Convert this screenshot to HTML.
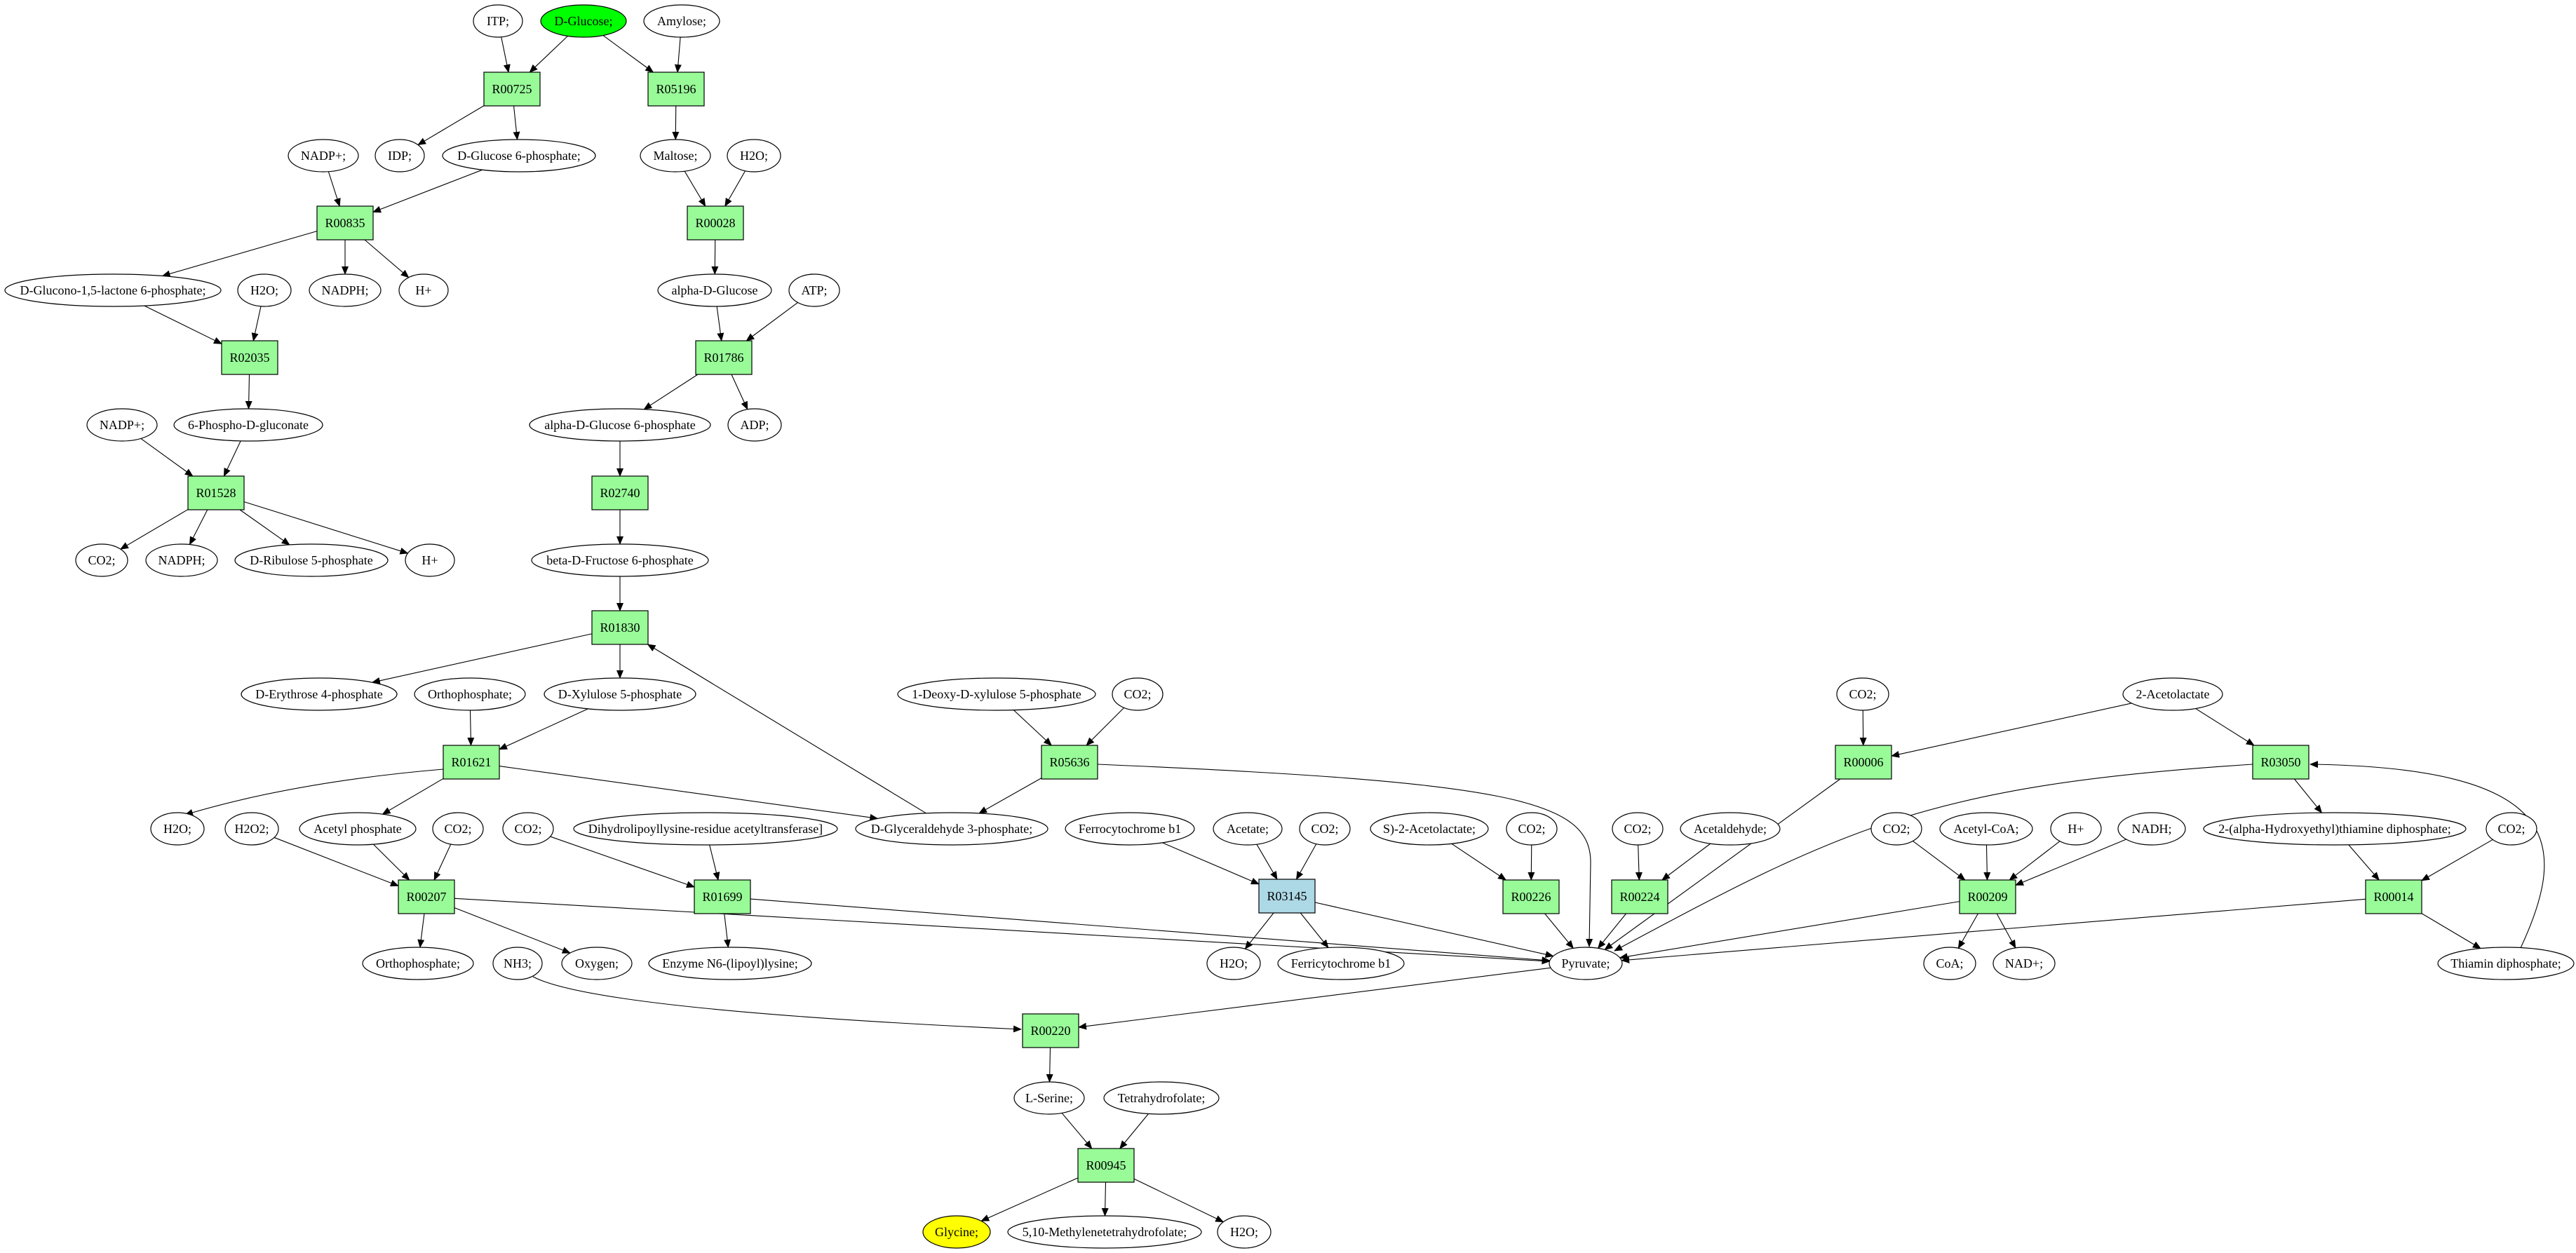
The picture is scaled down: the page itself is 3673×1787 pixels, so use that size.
<!DOCTYPE html>
<html><head><meta charset="utf-8">
<style>
html,body{margin:0;padding:0;background:#fff;}
svg{display:block;}
text{font-family:"Liberation Serif",serif;font-size:18px;fill:#000;}
</style></head>
<body>
<svg id="g" width="3673" height="1787" viewBox="0 0 3673 1787" xmlns="http://www.w3.org/2000/svg">
<defs>
<marker id="ah" markerUnits="userSpaceOnUse" markerWidth="12" markerHeight="10" refX="11" refY="5" orient="auto">
<path d="M0,0 L12,5 L0,10 Z" fill="#000"/>
</marker>
</defs>
<g id="edges" fill="none" stroke="#000" stroke-width="1.1"></g>
<g id="nodes"></g>
</svg>
<script>
var N={};
var RY=23;
function E(id,x,y,rx,label,fill){N[id]={t:'e',x:x,y:y,rx:rx,ry:RY,label:label,fill:fill||'#fff'};}
function B(id,x,y,label,fill){N[id]={t:'b',x:x,y:y,hw:40,hh:24,label:label,fill:fill||'#98fb98'};}
// boxes
B('R00725',730,127,'R00725');B('R05196',964,127,'R05196');
B('R00835',492,318,'R00835');B('R00028',1020,318,'R00028');
B('R02035',356,510,'R02035');B('R01786',1032,510,'R01786');
B('R01528',308,703,'R01528');B('R02740',884,703,'R02740');
B('R01830',884,895,'R01830');
B('R01621',672,1087,'R01621');B('R05636',1525,1087,'R05636');
B('R00006',2657,1087,'R00006');B('R03050',3252,1087,'R03050');
B('R00207',608,1279,'R00207');B('R01699',1030,1279,'R01699');
B('R03145',1835,1278,'R03145','#add8e6');
B('R00226',2183,1279,'R00226');B('R00224',2338,1279,'R00224');
B('R00209',2834,1279,'R00209');B('R00014',3413,1279,'R00014');
B('R00220',1498,1470,'R00220');B('R00945',1577,1662,'R00945');
// row 30
E('itp',710,30,35,'ITP;');E('glc',832,30,61,'D-Glucose;','#00ff00');E('amy',972,30,54,'Amylose;');
// row 222
E('nadp1',461,222,50,'NADP+;');E('idp',570,222,35,'IDP;');E('g6p',740,222,109,'D-Glucose 6-phosphate;');
E('mal',963,222,50,'Maltose;');E('h2o1',1075,222,38,'H2O;');
// row 414
E('glucono',161,414,154,'D-Glucono-1,5-lactone 6-phosphate;');E('h2o2',377,414,38,'H2O;');
E('nadph1',492,414,51,'NADPH;');E('hp1',604,414,35,'H+');
E('aglc',1019,414,81,'alpha-D-Glucose');E('atp',1161,414,36,'ATP;');
// row 606
E('nadp2',174,606,50,'NADP+;');E('pg',354,606,106,'6-Phospho-D-gluconate');
E('ag6p',884,606,129,'alpha-D-Glucose 6-phosphate');E('adp',1076,606,38,'ADP;');
// row 799
E('co2a',145,799,37,'CO2;');E('nadph2',259,799,51,'NADPH;');E('rib',444,799,109,'D-Ribulose 5-phosphate');
E('hp2',613,799,35,'H+');E('bf6p',884,799,126,'beta-D-Fructose 6-phosphate');
// row 990
E('ery',455,990,111,'D-Erythrose 4-phosphate');E('orth1',670,990,79,'Orthophosphate;');
E('xyl',884,990,108,'D-Xylulose 5-phosphate');E('deoxy',1421,990,141,'1-Deoxy-D-xylulose 5-phosphate');
E('co2b',1622,990,36,'CO2;');E('co2c',2656,990,37,'CO2;');E('acl',3098,990,71,'2-Acetolactate');
// row 1182
E('h2o3',253,1182,38,'H2O;');E('h2o2x',359,1182,38,'H2O2;');E('acp',510,1182,83,'Acetyl phosphate');
E('co2d',653,1182,36,'CO2;');E('co2e',753,1182,36,'CO2;');
E('dihyd',1006,1182,188,'Dihydrolipoyllysine-residue acetyltransferase]');
E('g3p',1357,1182,137,'D-Glyceraldehyde 3-phosphate;');E('ferro',1611,1182,92,'Ferrocytochrome b1');
E('acet',1779,1182,49,'Acetate;');E('co2f',1889,1182,36,'CO2;');
E('sacl',2038,1182,84,'S)-2-Acetolactate;');E('co2g',2184,1182,36,'CO2;');
E('co2h',2335,1182,36,'CO2;');E('acald',2467,1182,71,'Acetaldehyde;');
E('co2i',2704,1182,36,'CO2;');E('acoa',2832,1182,66,'Acetyl-CoA;');E('hp3',2960,1182,36,'H+');
E('nadh',3068,1182,48,'NADH;');E('hte',3329,1182,187,'2-(alpha-Hydroxyethyl)thiamine diphosphate;');
E('co2j',3581,1182,36,'CO2;');
// row 1374
E('orth2',596,1374,79,'Orthophosphate;');E('nh3',738,1374,35,'NH3;');E('oxy',851,1374,50,'Oxygen;');
E('enz',1041,1374,116,'Enzyme N6-(lipoyl)lysine;');E('h2o4',1759,1374,38,'H2O;');
E('ferri',1912,1374,90,'Ferricytochrome b1');E('pyr',2261,1374,52,'Pyruvate;');
E('coa',2780,1374,37,'CoA;');E('nad',2886,1374,44,'NAD+;');E('thd',3573,1374,97,'Thiamin diphosphate;');
// row 1566
E('ser',1496,1566,50,'L-Serine;');E('thf',1656,1566,82,'Tetrahydrofolate;');
// row 1757
E('gly',1364,1757,48,'Glycine;','#ffff00');E('mthf',1575,1757,138,'5,10-Methylenetetrahydrofolate;');
E('h2o5',1774,1757,38,'H2O;');

var ns='http://www.w3.org/2000/svg';
function el(n,a,p){var e=document.createElementNS(ns,n);for(var k in a)e.setAttribute(k,a[k]);p.appendChild(e);return e;}
var gn=document.getElementById('nodes'),ge=document.getElementById('edges');
for(var id in N){var n=N[id];
 if(n.t==='e')el('ellipse',{cx:n.x,cy:n.y,rx:n.rx,ry:n.ry,fill:n.fill,stroke:'#000','stroke-width':1.2},gn);
 else el('rect',{x:n.x-n.hw,y:n.y-n.hh,width:2*n.hw,height:2*n.hh,fill:n.fill,stroke:'#000','stroke-width':1.2},gn);
 var t=el('text',{x:n.x,y:n.y+6,'text-anchor':'middle'},gn);t.textContent=n.label;}
function bd(n,dx,dy){var s;
 if(n.t==='e')s=1/Math.sqrt((dx/n.rx)*(dx/n.rx)+(dy/n.ry)*(dy/n.ry));
 else s=Math.min(dx?n.hw/Math.abs(dx):1e9,dy?n.hh/Math.abs(dy):1e9);
 return [n.x+dx*s,n.y+dy*s];}
function L(a,b){var A=N[a],Bn=N[b];var dx=Bn.x-A.x,dy=Bn.y-A.y;
 var p=bd(A,dx,dy),q=bd(Bn,-dx,-dy);
 el('line',{x1:p[0],y1:p[1],x2:q[0],y2:q[1],'marker-end':'url(#ah)'},ge);}
function P(d){el('path',{d:d,'marker-end':'url(#ah)'},ge);}
[['itp','R00725'],['glc','R00725'],['glc','R05196'],['amy','R05196'],
['R00725','idp'],['R00725','g6p'],['R05196','mal'],
['nadp1','R00835'],['g6p','R00835'],['mal','R00028'],['h2o1','R00028'],
['R00835','glucono'],['R00835','nadph1'],['R00835','hp1'],['R00028','aglc'],
['glucono','R02035'],['h2o2','R02035'],['aglc','R01786'],['atp','R01786'],
['R02035','pg'],['R01786','ag6p'],['R01786','adp'],
['nadp2','R01528'],['pg','R01528'],['ag6p','R02740'],
['R01528','co2a'],['R01528','nadph2'],['R01528','rib'],['R01528','hp2'],
['R02740','bf6p'],['bf6p','R01830'],['R01830','ery'],['R01830','xyl'],
['g3p','R01830'],['xyl','R01621'],['orth1','R01621'],['deoxy','R05636'],['co2b','R05636'],
['R01621','acp'],['R01621','g3p'],['R05636','g3p'],
['h2o2x','R00207'],['acp','R00207'],['co2d','R00207'],
['co2e','R01699'],['dihyd','R01699'],
['R00207','orth2'],['R00207','oxy'],['R00207','pyr'],
['R01699','enz'],['R01699','pyr'],
['ferro','R03145'],['acet','R03145'],['co2f','R03145'],
['R03145','h2o4'],['R03145','ferri'],['R03145','pyr'],
['sacl','R00226'],['co2g','R00226'],['R00226','pyr'],
['co2h','R00224'],['acald','R00224'],['R00224','pyr'],
['co2c','R00006'],['acl','R00006'],['acl','R03050'],['R00006','pyr'],
['R03050','hte'],
['co2i','R00209'],['acoa','R00209'],['hp3','R00209'],['nadh','R00209'],
['R00209','pyr'],['R00209','coa'],['R00209','nad'],
['hte','R00014'],['co2j','R00014'],['R00014','pyr'],['R00014','thd'],
['pyr','R00220'],['R00220','ser'],['ser','R00945'],['thf','R00945'],
['R00945','gly'],['R00945','mthf'],['R00945','h2o5']
].forEach(function(e){L(e[0],e[1]);});
P('M632,1097 Q420,1115 264,1162');
P('M1565,1090 C2150,1115 2268,1140 2268,1230 L2266,1350');
P('M3212,1090 C2750,1120 2630,1180 2302,1356');
P('M3594,1352 C3665,1200 3650,1095 3294,1090');
P('M760,1393 Q850,1440 1456,1468');
</script>
</body></html>
